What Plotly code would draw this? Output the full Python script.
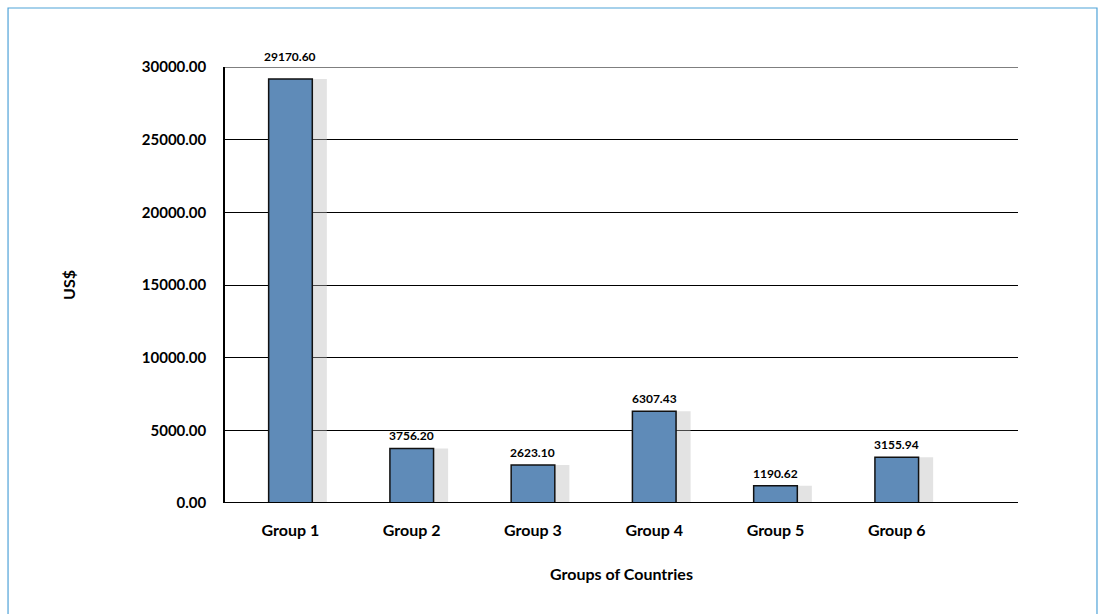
import plotly.graph_objects as go

groups = ["Group 1", "Group 2", "Group 3", "Group 4", "Group 5", "Group 6"]
values = [29170.60, 3756.20, 2623.10, 6307.43, 1190.62, 3155.94]
y_ticks = [0, 5000, 10000, 15000, 20000, 25000, 30000]
y_tick_text = [f"{v:.2f}" for v in y_ticks]

BAR_W = 0.36
positions = list(range(len(groups)))
# extra lift for labels that would otherwise sit on the top gridline
label_lift = [13, 3, 3, 3, 3, 3]

fig = go.Figure()

# soft grey drop shadow offset to the right of each bar
fig.add_trace(go.Bar(
    x=positions, y=values, width=BAR_W + 0.06, offset=-BAR_W / 2 + 0.06,
    marker=dict(color="rgba(185,185,185,0.4)", line=dict(width=0)),
    hoverinfo="skip", showlegend=False,
))

fig.add_trace(go.Bar(
    x=positions, y=values, width=BAR_W,
    marker=dict(color="#5f8bb8", line=dict(color="#111111", width=1.5)),
    showlegend=False,
))

annotations = [
    dict(x=p, y=v, xref="x", yref="y", text=f"{v:.2f}", showarrow=False,
         yanchor="bottom", yshift=s,
         font=dict(family="Lato", size=12, color="#000000", weight="bold"))
    for p, v, s in zip(positions, values, label_lift)
]

fig.update_layout(
    width=1104, height=614,
    margin=dict(l=225, r=86, t=67, b=111),
    paper_bgcolor="white", plot_bgcolor="white",
    barmode="overlay",
    annotations=annotations,
    xaxis=dict(
        range=[-0.54, 6.0], tickmode="array", tickvals=positions, ticktext=groups,
        showgrid=False, zeroline=False, showline=False, ticks="",
        ticklabelstandoff=16,
        tickfont=dict(family="Lato", size=16, color="#000000", weight="bold"),
        title=dict(text="Groups of Countries", standoff=30,
                   font=dict(family="Lato", size=16, color="#000000", weight="bold")),
    ),
    yaxis=dict(
        range=[0, 30000], tickmode="array", tickvals=y_ticks, ticktext=y_tick_text,
        showgrid=True, gridcolor="#000000", gridwidth=1.2,
        zeroline=False, showline=True, linecolor="#000000", linewidth=1.5,
        ticks="", ticklabelstandoff=14,
        tickfont=dict(family="Lato", size=15, color="#000000", weight="bold"),
        title=dict(text="US$", standoff=62,
                   font=dict(family="Lato", size=16, color="#000000", weight="bold")),
    ),
    shapes=[
        # outer frame
        dict(type="rect", xref="paper", yref="paper",
             x0=-0.2736, x1=1.0996, y0=-0.3, y1=1.1353,
             line=dict(color="#4fa3d8", width=1.2), layer="below"),
        # top gridline at the range limit
        dict(type="line", xref="paper", yref="y", x0=0, x1=1, y0=30000, y1=30000,
             line=dict(color="#000000", width=1.2), layer="below"),
        # baseline
        dict(type="line", xref="paper", yref="y", x0=0, x1=1, y0=0, y1=0,
             line=dict(color="#000000", width=2)),
    ],
)

fig.write_html("out.html")
